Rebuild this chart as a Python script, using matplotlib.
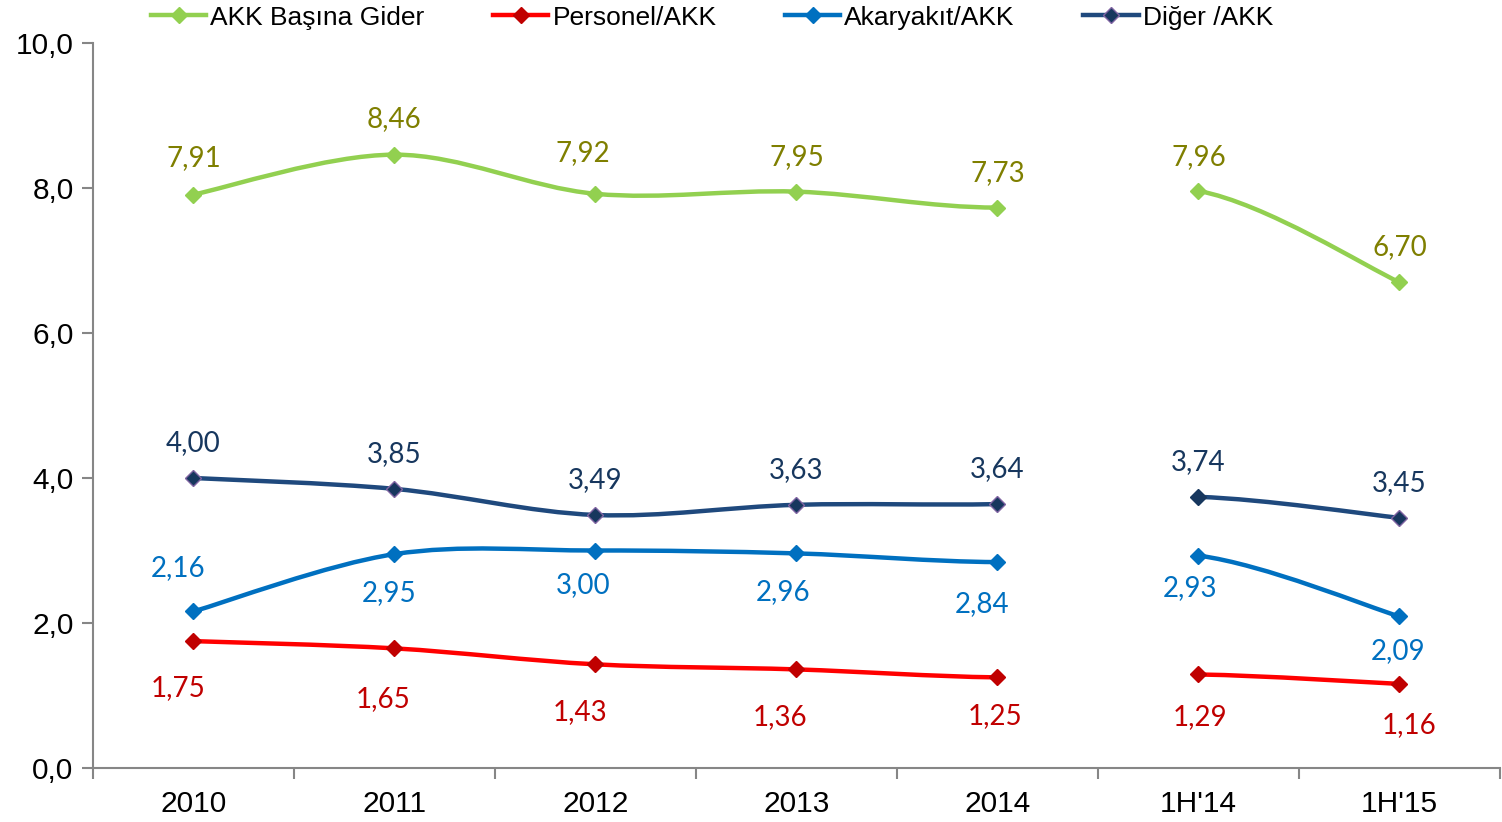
import numpy as np
import matplotlib.pyplot as plt
from matplotlib.path import Path
from matplotlib.patches import PathPatch
from matplotlib.lines import Line2D

categories = ['2010', '2011', '2012', '2013', '2014', "1H'14", "1H'15"]
akk_gider = [7.91, 8.46, 7.92, 7.95, 7.73, 7.96, 6.70]
personel = [1.75, 1.65, 1.43, 1.36, 1.25, 1.29, 1.16]
akaryakit = [2.16, 2.95, 3.00, 2.96, 2.84, 2.93, 2.09]
diger = [4.00, 3.85, 3.49, 3.63, 3.64, 3.74, 3.45]

# no line drawn between 2014 and 1H'14
gap_after = 4


def smooth_path(xs, ys):
    # excel-style smoothed line: bezier through the points
    pts = np.column_stack([xs, ys])
    n = len(pts)
    verts = [pts[0]]
    codes = [Path.MOVETO]
    for i in range(n - 1):
        p0 = pts[i - 1] if i > 0 else pts[i]
        p1 = pts[i]
        p2 = pts[i + 1]
        p3 = pts[i + 2] if i + 2 < n else pts[i + 1]
        if i == gap_after:
            verts.append(p2)
            codes.append(Path.MOVETO)
            continue
        c1 = p1 + (p2 - p0) / 6.0
        c2 = p2 - (p3 - p1) / 6.0
        verts += [c1, c2, p2]
        codes += [Path.CURVE4] * 3
    return Path(verts, codes)


fig = plt.figure(figsize=(15.02, 8.22), dpi=100)
ax = fig.add_axes([93 / 1502, 54 / 822, 1407 / 1502, 725 / 822])

series = [
    ('AKK Başına Gider', akk_gider, '#92D050', '#92D050', '#92D050', '#7F7F00',
     [(0, 36), (0, 36), (-13, 41), (0, 35), (0, 35), (0, 34), (0, 35)]),
    ('Personel/AKK', personel, '#FF0000', '#C00000', '#C00000', '#C00000',
     [(-15, -47), (-11, -51), (-15, -48), (-16, -48), (-2, -39), (2, -43), (10, -41)]),
    ('Akaryakıt/AKK', akaryakit, '#0070C0', '#0070C0', '#0070C0', '#0070C0',
     [(-15, 43), (-5, -39), (-12, -35), (-13, -39), (-15, -42), (-8, -32), (-1, -35)]),
    ('Diğer /AKK', diger, '#1F497D', '#17375E', '#8064A2', '#17375E',
     [(0, 35), (0, 35), (0, 35), (0, 35), (0, 35), (0, 35), (0, 35)]),
]

x = np.arange(len(categories))
handles = []
for name, vals, lc, mc, mec, tc, offs in series:
    p = smooth_path(x, vals)
    ax.add_patch(PathPatch(p, facecolor='none', edgecolor=lc, lw=3.2,
                           capstyle='round', joinstyle='round', zorder=2))
    edges = [mec] * len(vals)
    if name.startswith('Diğer'):
        edges[5] = mc
    for i, v in enumerate(vals):
        ax.plot(x[i], v, ls='none', marker='D', ms=8, mfc=mc, mec=edges[i],
                mew=1, zorder=3)
        ax.annotate(f'{v:.2f}'.replace('.', ','), (x[i], v), xytext=offs[i],
                    textcoords='offset pixels', ha='center', va='center',
                    color=tc, fontsize=20, family='Lato')
    handles.append(Line2D([], [], color=lc, lw=3.2, marker='D', ms=8,
                          mfc=mc, mec=mec, mew=1))

ax.set_xlim(-0.5, 6.5)
ax.set_ylim(0, 10)
ax.set_yticks([0, 2, 4, 6, 8, 10])
ax.set_yticklabels(['0,0', '2,0', '4,0', '6,0', '8,0', '10,0'],
                   fontsize=21.5, family='Liberation Sans')
ax.set_xticks(x)
ax.set_xticklabels(categories, fontsize=21.5, family='Liberation Sans')
ax.set_xticks(np.arange(-0.5, 6.6, 1), minor=True)
ax.tick_params(axis='x', which='major', length=0, pad=16)
ax.tick_params(axis='x', which='minor', length=8, width=1.5, color='#868686')
ax.tick_params(axis='y', length=8, width=1.5, color='#868686', pad=6)
for s in ['top', 'right']:
    ax.spines[s].set_visible(False)
for s in ['left', 'bottom']:
    ax.spines[s].set_color('#868686')
    ax.spines[s].set_linewidth(1.5)

fig.legend(handles, [s[0] for s in series], loc='upper center', ncol=4,
           bbox_to_anchor=(0.474, 1.022), frameon=False,
           prop={'family': 'Liberation Sans', 'size': 19},
           handlelength=2.1, handletextpad=0.15, columnspacing=2.6)

fig.savefig('out.png', dpi=100)
